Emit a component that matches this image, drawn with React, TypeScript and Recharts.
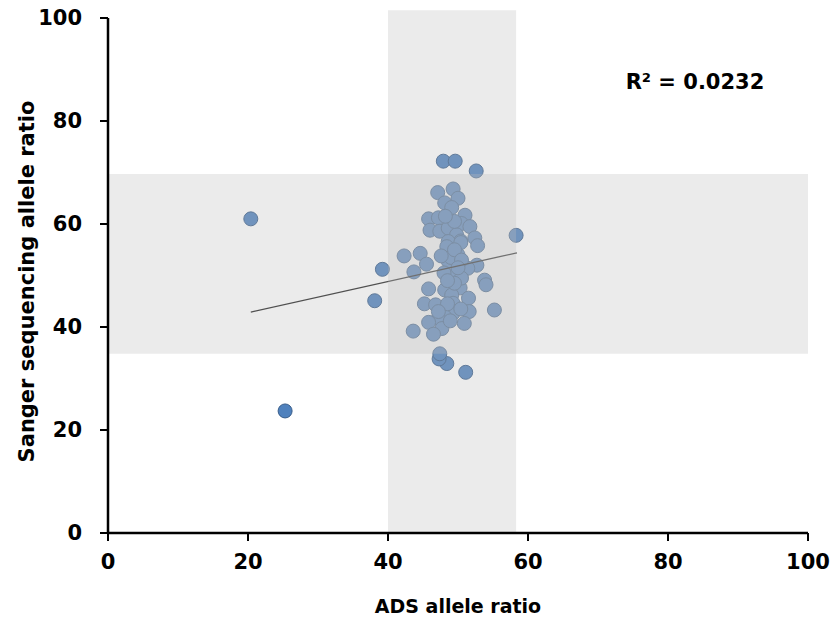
import React from 'react';
import { ScatterChart, Scatter, XAxis, YAxis, ReferenceArea } from 'recharts';

// ADS allele ratio (x) and Sanger sequencing allele ratio (y) for each sample
const adsRatio = [
  20.4, 25.3, 38.1, 39.2, 58.3, 47.9, 49.6, 52.6, 51.1, 48.4, 47.3, 47.4,
  47.1, 49.3, 50.0, 48.1, 49.1, 45.8, 47.2, 51.0, 50.5, 46.0, 47.4, 48.6, 51.7, 49.8, 52.4, 50.4, 48.6,
  42.3, 44.6, 45.5, 43.7, 48.4, 50.4, 52.8, 50.0, 48.6, 52.7, 51.4, 49.3, 53.8, 54.0, 45.8, 50.3, 48.1, 49.1, 51.5, 45.2, 46.8,
  49.3, 55.2, 51.6, 49.3, 48.1, 47.2, 45.8, 47.7, 48.9, 50.9, 43.6, 46.5,
  49.0, 49.5, 50.5, 48.0, 50.5, 49.5, 48.5, 50.0, 47.6, 49.5, 48.2, 48.5, 50.4, 47.2,
];
const sangerRatio = [
  61.0, 23.7, 45.1, 51.2, 57.8, 72.2, 72.2, 70.3, 31.2, 32.9, 33.8, 34.8,
  66.1, 66.8, 65.0, 64.1, 63.2, 61.0, 61.2, 61.7, 60.1, 58.8, 58.6, 59.2, 59.5, 57.9, 57.3, 56.7, 56.6,
  53.8, 54.3, 52.2, 50.7, 55.6, 56.4, 55.8, 54.0, 52.8, 52.0, 51.4, 50.0, 49.1, 48.2, 47.4, 47.6, 47.2, 46.2, 45.6, 44.5, 44.3,
  44.6, 43.3, 43.0, 42.7, 42.0, 41.7, 40.9, 39.7, 41.2, 40.7, 39.2, 38.6,
  53.5, 55.0, 53.0, 50.5, 49.5, 48.5, 49.0, 51.5, 53.8, 60.5, 61.5, 44.5, 43.5, 43.0,
];

// Linear trend line end points
const trendX = [20.4, 58.4];
const trendY = [42.9, 54.4];

// Shaded ranges
const bandX = [40, 58.3];
const bandXTop = 101.5;
const bandY = [34.8, 69.7];

const axisTicks = [0, 20, 40, 60, 80, 100];
const r2Label = 'R² = 0.0232';

const points = adsRatio.map((x, i) => ({ x, y: sangerRatio[i] }));
const trend = trendX.map((x, i) => ({ x, y: trendY[i] }));

const FONT = '"DejaVu Sans", sans-serif';
const tickStyle = { fontFamily: FONT, fontWeight: 'bold', fontSize: 21, fill: '#000' };

const Dot = (props: any) => {
  const { cx, cy } = props;
  if (cx == null || cy == null) return null;
  return <circle cx={cx} cy={cy} r={7} fill="#4F81BD" stroke="#385D8A" strokeWidth={1} />;
};
const NoDot = () => null;

export default function App() {
  return (
    <div style={{ position: 'absolute', left: 0, top: 0, width: 835, height: 620, background: '#fff' }}>
      <ScatterChart width={835} height={620} margin={{ top: 18, right: 27, bottom: 0, left: 0 }}>
        <XAxis
          type="number"
          dataKey="x"
          domain={[0, 100]}
          ticks={axisTicks}
          height={87}
          axisLine={{ stroke: '#000', strokeWidth: 2.5 }}
          tickLine={{ stroke: '#000', strokeWidth: 2 }}
          tickSize={8}
          tickMargin={13}
          tick={tickStyle}
          label={{ value: 'ADS allele ratio', position: 'insideBottom', offset: 7, style: { fontFamily: FONT, fontWeight: 'bold', fontSize: 19, fill: '#000' } }}
          zIndex={700}
        />
        <YAxis
          type="number"
          dataKey="y"
          domain={[0, 100]}
          ticks={axisTicks}
          width={108}
          axisLine={{ stroke: '#000', strokeWidth: 2.5 }}
          tickLine={{ stroke: '#000', strokeWidth: 2 }}
          tickSize={8}
          tickMargin={18}
          tick={tickStyle}
          label={{ value: 'Sanger sequencing allele ratio', angle: -90, position: 'center', dx: -27, dy: 6, style: { fontFamily: FONT, fontWeight: 'bold', fontSize: 21, fill: '#000', textAnchor: 'middle' } }}
          zIndex={700}
        />
        <Scatter data={points} shape={Dot} isAnimationActive={false} />
        <Scatter data={trend} shape={NoDot} line={{ stroke: '#222', strokeWidth: 1.3 }} isAnimationActive={false} />
        <ReferenceArea x1={bandX[0]} x2={bandX[1]} y1={0} y2={bandXTop} fill="#bebebe" fillOpacity={0.3} stroke="none" ifOverflow="visible" zIndex={650} />
        <ReferenceArea x1={0} x2={100} y1={bandY[0]} y2={bandY[1]} fill="#bebebe" fillOpacity={0.3} stroke="none" ifOverflow="visible" zIndex={650} />
      </ScatterChart>
      <svg width={835} height={620} style={{ position: 'absolute', left: 0, top: 0, pointerEvents: 'none' }}>
        <text x={695} y={89} textAnchor="middle" fontFamily={FONT} fontWeight="bold" fontSize={21} fill="#000">{r2Label}</text>
      </svg>
    </div>
  );
}
